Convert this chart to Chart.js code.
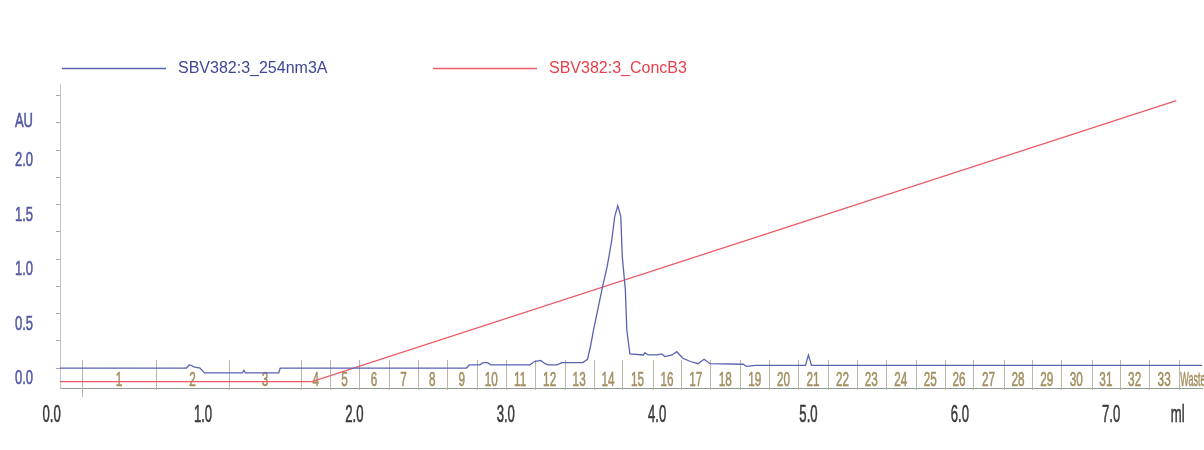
<!DOCTYPE html>
<html>
<head>
<meta charset="utf-8">
<title>SBV382:3</title>
<script src="https://cdn.jsdelivr.net/npm/chart.js@4.4.1/dist/chart.umd.min.js"></script>
<style>
    html, body { margin: 0; padding: 0; background: #fff; }
    #grafico { display: block; }
</style>
</head>
<body>
<canvas id="grafico" width="1204" height="450"></canvas>
<script>
const uvVolumen = [0.04, 0.89, 0.91, 0.94, 0.98, 1.01, 1.26, 1.27, 1.28, 1.50, 1.51,
    2.74, 2.76, 2.83, 2.85, 2.88, 2.90, 3.16, 3.19, 3.23, 3.26, 3.28, 3.34, 3.37, 3.51,
    3.54, 3.56, 3.58, 3.61, 3.64, 3.67, 3.70, 3.72, 3.74, 3.76, 3.77, 3.79, 3.80, 3.82,
    3.91, 3.92, 3.94, 4.00, 4.03, 4.05, 4.10, 4.13, 4.17, 4.22, 4.27, 4.31, 4.35, 4.57,
    4.59, 4.65, 4.98, 5.00, 5.02, 7.60];
const uvAbs = [0, 0, 0.03, 0.01, 0, -0.045, -0.045, -0.02, -0.045, -0.045, 0,
    0, 0.03, 0.03, 0.05, 0.05, 0.03, 0.03, 0.06, 0.07, 0.04, 0.03, 0.03, 0.05, 0.05,
    0.08, 0.20, 0.35, 0.55, 0.75, 0.93, 1.17, 1.39, 1.49, 1.39, 1.02, 0.72, 0.35, 0.13,
    0.12, 0.14, 0.12, 0.12, 0.13, 0.105, 0.12, 0.15, 0.09, 0.06, 0.04, 0.08, 0.04, 0.035,
    0.015, 0.025, 0.025, 0.12, 0.025, 0.025];

const concVolumen = [0.055, 1.72, 7.43];
const concB = [0, 0, 100];

const fraccionBordes = [0.20, 0.69, 1.17, 1.65, 1.84, 2.03, 2.23, 2.42, 2.61, 2.81, 3.00,
    3.19, 3.39, 3.58, 3.77, 3.97, 4.16, 4.35, 4.55, 4.74, 4.93, 5.13, 5.32, 5.51, 5.71,
    5.90, 6.09, 6.29, 6.48, 6.67, 6.87, 7.06, 7.25, 7.45];
const fraccionNombres = ['1', '2', '3', '4', '5', '6', '7', '8', '9', '10', '11', '12',
    '13', '14', '15', '16', '17', '18', '19', '20', '21', '22', '23', '24', '25', '26',
    '27', '28', '29', '30', '31', '32', '33', 'Waste'];

const xEtiquetas = [0, 1, 2, 3, 4, 5, 6, 7, 7.44];
const xTextos = ['0.0', '1.0', '2.0', '3.0', '4.0', '5.0', '6.0', '7.0', 'ml'];
const yEtiquetas = [0, 0.5, 1, 1.5, 2, 2.36];
const yTextos = ['0.0', '0.5', '1.0', '1.5', '2.0', 'AU'];
const yMarcas = [0, 0.25, 0.5, 0.75, 1, 1.25, 1.5, 1.75, 2, 2.25, 2.5];

const nombreUV = 'SBV382:3_254nm3A';
const nombreConc = 'SBV382:3_ConcB3';

// --- TEXTO ESTRECHO (las etiquetas del original son muy condensadas) ---
function textoAngosto(ctx, texto, x, y, escala, alinear) {
    ctx.save();
    ctx.translate(x, y);
    ctx.scale(escala, 1);
    ctx.textAlign = alinear;
    ctx.textBaseline = 'alphabetic';
    ctx.lineWidth = 0.6;
    ctx.strokeStyle = ctx.fillStyle;
    ctx.fillText(texto, 0, 0);
    ctx.strokeText(texto, 0, 0);
    ctx.restore();
}

// --- PLUGIN: fracciones, etiquetas de ejes y leyenda ---
const pluginUnicorn = {
    id: 'unicorn',
    beforeDatasetsDraw(chart) {
        const { ctx, chartArea, scales: { x } } = chart;
        ctx.save();
        ctx.strokeStyle = '#bdb5a6';
        ctx.lineWidth = 1;
        fraccionBordes.forEach((v, i) => {
            const px = Math.round(x.getPixelForValue(v)) + 0.5;
            ctx.beginPath();
            ctx.moveTo(px, chartArea.bottom - 28);
            ctx.lineTo(px, chartArea.bottom + (i === 0 ? 9 : 2));
            ctx.stroke();
        });
        ctx.fillStyle = '#a38f60';
        ctx.font = '21px "Liberation Sans", Arial, sans-serif';
        fraccionNombres.forEach((nombre, i) => {
            if (i < fraccionBordes.length - 1) {
                const centro = (x.getPixelForValue(fraccionBordes[i]) + x.getPixelForValue(fraccionBordes[i + 1])) / 2;
                textoAngosto(ctx, nombre, centro, chartArea.bottom - 2, 0.56, 'center');
            } else {
                textoAngosto(ctx, nombre, x.getPixelForValue(fraccionBordes[i]) + 1, chartArea.bottom - 2, 0.43, 'left');
            }
        });
        ctx.restore();
    },
    afterDraw(chart) {
        const { ctx, chartArea, scales: { x, y } } = chart;
        ctx.save();
        // eje Y
        ctx.fillStyle = '#5258a4';
        ctx.font = '21px "Liberation Sans", Arial, sans-serif';
        yEtiquetas.forEach((v, i) => {
            textoAngosto(ctx, yTextos[i], chartArea.left - 27, y.getPixelForValue(v) + 16, 0.62, 'right');
        });
        // eje X
        ctx.fillStyle = '#3a3a3a';
        ctx.font = '23px "Liberation Sans", Arial, sans-serif';
        xEtiquetas.forEach((v, i) => {
            textoAngosto(ctx, xTextos[i], x.getPixelForValue(v), chartArea.bottom + 34, 0.57, 'center');
        });
        // leyenda
        const items = [
            { x: 62, color: chart.data.datasets[0].borderColor, texto: '#3f4796', nombre: chart.data.datasets[0].label },
            { x: 433, color: chart.data.datasets[1].borderColor, texto: '#e8404a', nombre: chart.data.datasets[1].label }
        ];
        ctx.font = '16px "Liberation Sans", Arial, sans-serif';
        ctx.textBaseline = 'middle';
        ctx.textAlign = 'left';
        items.forEach(it => {
            ctx.strokeStyle = it.color;
            ctx.lineWidth = 1.3;
            ctx.beginPath();
            ctx.moveTo(it.x, 68.5);
            ctx.lineTo(it.x + 104, 68.5);
            ctx.stroke();
            ctx.fillStyle = it.texto;
            ctx.fillText(it.nombre, it.x + 116, 69);
        });
        ctx.restore();
    }
};

// --- GRAFICO ---
new Chart(document.getElementById('grafico'), {
    type: 'line',
    data: {
        datasets: [{
            label: nombreUV,
            data: uvVolumen.map((v, i) => ({ x: v, y: uvAbs[i] })),
            borderColor: '#5a62b2',
            borderWidth: 1.3,
            pointRadius: 0,
            tension: 0,
            yAxisID: 'y'
        }, {
            label: nombreConc,
            data: concVolumen.map((v, i) => ({ x: v, y: concB[i] })),
            borderColor: '#ea5c66',
            borderWidth: 1.3,
            pointRadius: 0,
            tension: 0,
            yAxisID: 'yConc'
        }]
    },
    options: {
        responsive: false,
        animation: false,
        devicePixelRatio: 1,
        layout: { padding: { top: 84.6, right: 2, left: 0, bottom: 0 } },
        plugins: { legend: { display: false }, tooltip: { enabled: false } },
        scales: {
            x: {
                type: 'linear',
                min: 0.055,
                max: 7.6,
                grid: { display: false, drawTicks: false },
                border: { color: '#8f9b8f', width: 1 },
                ticks: { display: false },
                afterFit: s => { s.height = 62; }
            },
            y: {
                type: 'linear',
                min: -0.183,
                max: 2.6,
                afterBuildTicks: s => { s.ticks = yMarcas.map(v => ({ value: v })); },
                grid: { drawOnChartArea: false, drawTicks: true, tickLength: 4, tickColor: '#a8a8a8' },
                border: { color: '#c4c4c4', width: 1 },
                ticks: { display: false },
                afterFit: s => { s.width = 60; }
            },
            yConc: {
                type: 'linear',
                display: false,
                min: -2.24,
                max: 105.7
            }
        }
    },
    plugins: [pluginUnicorn]
});
</script>
</body>
</html>
